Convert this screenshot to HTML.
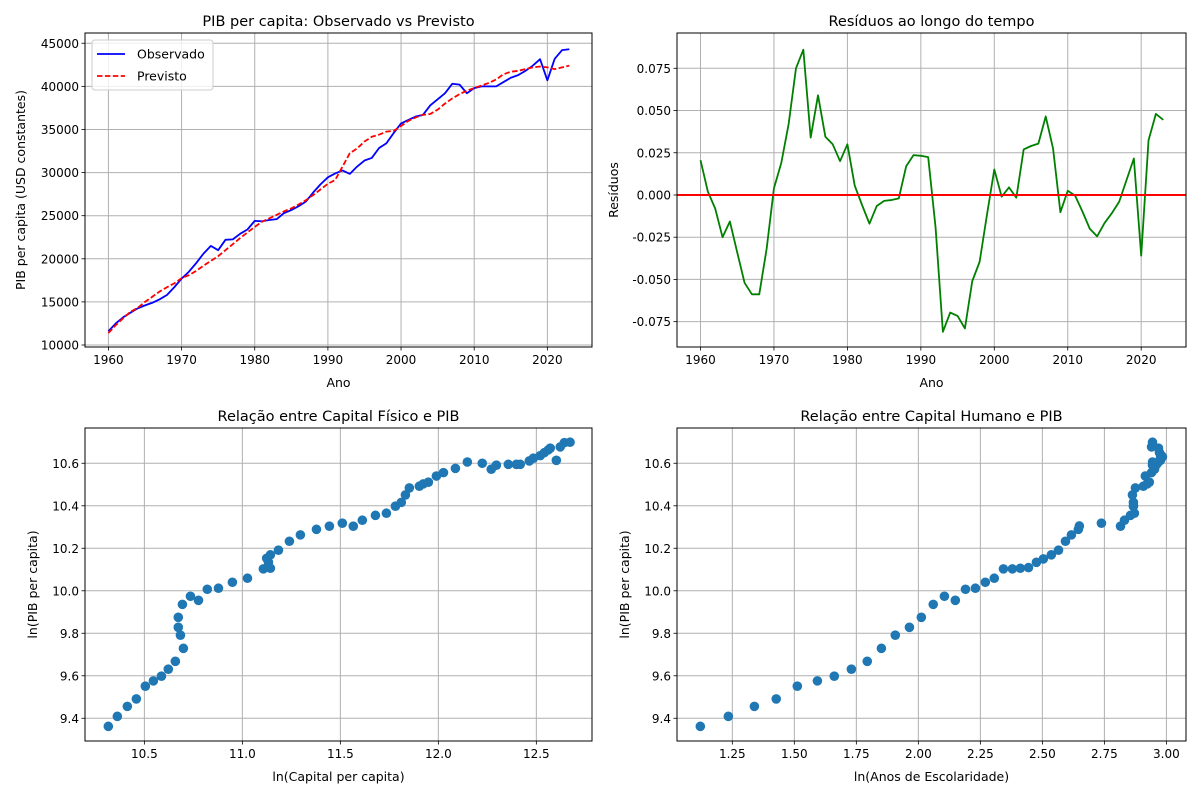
<!DOCTYPE html>
<html><head><meta charset="utf-8"><style>
body{margin:0;background:#fff;}
svg text{font-family:"DejaVu Sans","Liberation Sans",sans-serif;fill:#000;}
</style></head><body>
<svg id="fig" width="1200" height="800" xmlns="http://www.w3.org/2000/svg"></svg>
<script>
const years = Array.from({length:64},(_,i)=>1960+i);
const observed = [11600,12500,13200,13750,14250,14600,14900,15300,15800,16700,17700,18500,19500,20600,21500,21000,22200,22250,22900,23400,24400,24350,24500,24600,25300,25650,26100,26650,27700,28650,29450,29900,30250,29850,30700,31400,31700,32850,33400,34600,35700,36100,36500,36700,37800,38500,39200,40300,40200,39200,39800,40000,40000,40000,40500,41000,41300,41800,42400,43150,40700,43200,44200,44300];
const predicted = [11400,12300,13100,13850,14300,15000,15600,16200,16700,17150,17750,18100,18600,19200,19750,20300,21000,21700,22400,23050,23700,24300,24700,25100,25500,25850,26300,26800,27400,28050,28700,29150,30700,32250,32800,33600,34150,34400,34750,34850,35400,36000,36400,36700,36800,37300,38000,38600,39100,39500,39800,40100,40400,40800,41400,41700,41800,42000,42200,42300,42200,42000,42200,42400];
const residuals = [0.0206,0.002,-0.008,-0.025,-0.0157,-0.034,-0.052,-0.0588,-0.0588,-0.032,0.004,0.019,0.042,0.075,0.086,0.034,0.059,0.0345,0.03,0.02,0.030,0.0055,-0.006,-0.017,-0.0065,-0.0035,-0.003,-0.002,0.017,0.0236,0.0232,0.0224,-0.019,-0.081,-0.0696,-0.0716,-0.079,-0.051,-0.0396,-0.0118,0.0151,-0.001,0.0045,-0.0016,0.027,0.029,0.0304,0.0465,0.0275,-0.0102,0.0025,-0.0004,-0.0098,-0.020,-0.0245,-0.0167,-0.0108,-0.004,0.0088,0.0216,-0.0359,0.0324,0.048,0.0445];
const capitalX = [10.316,10.362,10.413,10.459,10.505,10.546,10.587,10.622,10.658,10.699,10.684,10.673,10.673,10.694,10.735,10.776,10.821,10.878,10.949,11.026,11.107,11.143,11.133,11.124,11.143,11.184,11.240,11.296,11.378,11.444,11.510,11.566,11.612,11.679,11.735,11.781,11.811,11.832,11.852,11.903,11.923,11.949,11.990,12.026,12.087,12.148,12.224,12.270,12.296,12.357,12.398,12.418,12.464,12.485,12.520,12.541,12.561,12.571,12.602,12.622,12.643,12.672];
const capitalY = [9.362,9.409,9.456,9.491,9.551,9.576,9.598,9.631,9.668,9.729,9.791,9.828,9.875,9.936,9.974,9.955,10.007,10.012,10.040,10.059,10.103,10.106,10.134,10.153,10.169,10.191,10.233,10.263,10.289,10.304,10.318,10.304,10.332,10.355,10.365,10.398,10.416,10.451,10.484,10.492,10.503,10.511,10.540,10.556,10.576,10.606,10.600,10.572,10.591,10.595,10.595,10.595,10.611,10.624,10.636,10.650,10.663,10.671,10.614,10.677,10.697,10.699];
const humanX = [1.121,1.234,1.339,1.427,1.512,1.593,1.661,1.730,1.794,1.851,1.907,1.964,2.012,2.060,2.105,2.149,2.190,2.230,2.270,2.306,2.343,2.379,2.411,2.444,2.476,2.504,2.536,2.565,2.593,2.617,2.645,2.649,2.738,2.815,2.831,2.855,2.871,2.867,2.867,2.863,2.875,2.907,2.923,2.931,2.915,2.940,2.952,2.944,2.964,2.944,2.976,2.980,2.972,2.968,2.940,2.944,2.976,2.984,2.960,2.952];
const humanY = [9.362,9.409,9.456,9.491,9.551,9.576,9.598,9.631,9.668,9.729,9.791,9.828,9.875,9.936,9.974,9.955,10.007,10.012,10.040,10.059,10.103,10.103,10.106,10.109,10.134,10.150,10.169,10.191,10.233,10.263,10.289,10.305,10.318,10.304,10.332,10.355,10.365,10.398,10.416,10.451,10.484,10.492,10.503,10.511,10.540,10.556,10.576,10.606,10.600,10.591,10.624,10.636,10.650,10.671,10.677,10.699,10.614,10.630,10.595,10.572];
const yearTicks = [1960,1970,1980,1990,2000,2010,2020];
const gdpTicks = [10000,15000,20000,25000,30000,35000,40000,45000];
const resTicks = [-0.075,-0.05,-0.025,0,0.025,0.05,0.075];
const capTicks = [10.5,11.0,11.5,12.0,12.5];
const lnTicks = [9.4,9.6,9.8,10.0,10.2,10.4,10.6];
const humTicks = [1.25,1.5,1.75,2.0,2.25,2.5,2.75,3.0];

const NS="http://www.w3.org/2000/svg";
const svg=document.getElementById('fig');
function mk(tag,attrs,parent){const e=document.createElementNS(NS,tag);for(const k in attrs)e.setAttribute(k,attrs[k]);(parent||svg).appendChild(e);return e;}
function txt(s,attrs,parent){const e=mk('text',attrs,parent);e.textContent=s;return e;}

function panel(name,box,xd,yd,xt,yt,xfmt,yfmt,title,xlabel,ylabel){
  const g=mk('g',{});
  
  
  const sx=v=>box.x0+(v-xd[0])/(xd[1]-xd[0])*(box.x1-box.x0);
  const sy=v=>box.y1-(v-yd[0])/(yd[1]-yd[0])*(box.y1-box.y0);
  xt.forEach(t=>{const x=sx(t);
    const l=mk('line',{x1:x,x2:x,y1:box.y0,y2:box.y1,stroke:'#b0b0b0','stroke-width':1},g);
    
    mk('line',{x1:x,x2:x,y1:box.y1,y2:box.y1+3.5,stroke:'#000','stroke-width':0.8},g);
    const tl=txt(xfmt(t),{x:x,y:box.y1+17,'text-anchor':'middle','font-size':12},g);
    });
  yt.forEach(t=>{const y=sy(t);
    const l=mk('line',{x1:box.x0,x2:box.x1,y1:y,y2:y,stroke:'#b0b0b0','stroke-width':1},g);
    
    mk('line',{x1:box.x0-3.5,x2:box.x0,y1:y,y2:y,stroke:'#000','stroke-width':0.8},g);
    const tl=txt(yfmt(t),{x:box.x0-6,y:y+4.5,'text-anchor':'end','font-size':12},g);
    });
  const tt=txt(title,{x:(box.x0+box.x1)/2,y:box.y0-7,'text-anchor':'middle','font-size':14.5},g);
  
  const xl=txt(xlabel,{x:(box.x0+box.x1)/2,y:box.y1+40,'text-anchor':'middle','font-size':12.5},g);
  
  const yx=box.ylx;
  const yl=txt(ylabel,{x:yx,y:(box.y0+box.y1)/2,'text-anchor':'middle','font-size':12.5,transform:`rotate(-90 ${yx} ${(box.y0+box.y1)/2})`},g);
  
  return {g,sx,sy,box};
}
function frame(p){const f=mk('rect',{x:p.box.x0,y:p.box.y0,width:p.box.x1-p.box.x0,height:p.box.y1-p.box.y0,fill:'none',stroke:'#000','stroke-width':1},p.g);
  }
function line(p,xs,ys,color,dash,name){
  const d=xs.map((x,i)=>(i?'L':'M')+p.sx(x).toFixed(2)+','+p.sy(ys[i]).toFixed(2)).join('');
  const e=mk('path',{d:d,fill:'none',stroke:color,'stroke-width':1.8,'stroke-dasharray':dash||'none','stroke-linejoin':'round'},p.g);
  }
function scatter(p,xs,ys,name){xs.forEach((x,i)=>{
  const c=mk('circle',{cx:p.sx(x),cy:p.sy(ys[i]),r:4.8,fill:'#1f77b4'},p.g);
  });}

const f0=v=>String(v), f3=v=>v.toFixed(3), f1=v=>v.toFixed(1), f2=v=>v.toFixed(2);
const p1=panel('gdp-panel',{x0:85,x1:592,y0:33,y1:347,ylx:25},[1956.8,2026.1],[9770,46190],yearTicks,gdpTicks,f0,f0,'PIB per capita: Observado vs Previsto','Ano','PIB per capita (USD constantes)');
line(p1,years,observed,'#0000ff',null,'observed-line');
line(p1,years,predicted,'#ff0000','5.5,2.4','predicted-line');
frame(p1);
const lg=mk('g',{},p1.g);
mk('rect',{x:92,y:40,width:121,height:50,rx:3,fill:'#fff','fill-opacity':0.8,stroke:'#ccc'},lg);
mk('line',{x1:97,x2:125,y1:54,y2:54,stroke:'#0000ff','stroke-width':1.8},lg);
mk('line',{x1:97,x2:125,y1:76,y2:76,stroke:'#ff0000','stroke-width':1.8,'stroke-dasharray':'5.5,2.4'},lg);
const le1=txt('Observado',{x:137,y:58.5,'font-size':12.5},lg);
const le2=txt('Previsto',{x:137,y:80.5,'font-size':12.5},lg);

const p2=panel('residuals-panel',{x0:677,x1:1186,y0:33,y1:347,ylx:618},[1956.8,2026.1],[-0.0900,0.0959],yearTicks,resTicks,f0,f3,'Resíduos ao longo do tempo','Ano','Resíduos');
line(p2,years,residuals,'#008000',null,'residuals-line');
const z=mk('line',{x1:677,x2:1186,y1:p2.sy(0),y2:p2.sy(0),stroke:'#ff0000','stroke-width':2},p2.g);

frame(p2);

const p3=panel('capital-scatter-panel',{x0:85,x1:592,y0:428,y1:741,ylx:37},[10.197,12.784],[9.293,10.766],capTicks,lnTicks,f1,f1,'Relação entre Capital Físico e PIB','ln(Capital per capita)','ln(PIB per capita)');
scatter(p3,capitalX,capitalY,'capital-point');frame(p3);

const p4=panel('human-scatter-panel',{x0:677,x1:1186,y0:428,y1:741,ylx:629},[1.027,3.079],[9.293,10.766],humTicks,lnTicks,f2,f1,'Relação entre Capital Humano e PIB','ln(Anos de Escolaridade)','ln(PIB per capita)');
scatter(p4,humanX,humanY,'human-point');frame(p4);
</script>
</body></html>
